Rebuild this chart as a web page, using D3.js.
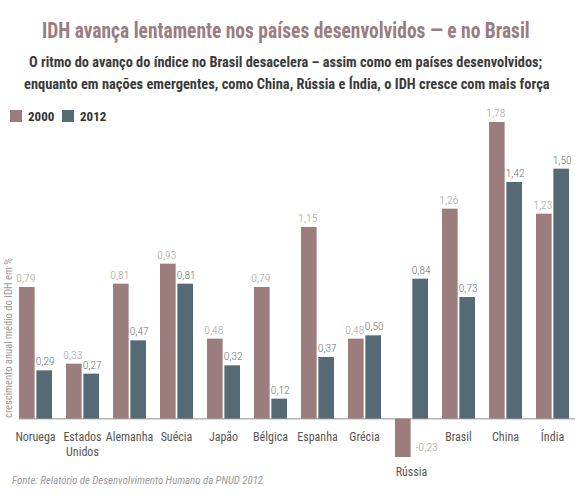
<!DOCTYPE html>
<html><head><meta charset="utf-8">
<script src="https://cdn.jsdelivr.net/npm/d3@7/dist/d3.min.js"></script>
<style>body{margin:0;background:#fff;}svg{display:block;}</style>
</head><body>
<script>
const categories = ["Noruega","Estados Unidos","Alemanha","Suécia","Japão","Bélgica","Espanha","Grécia","Rússia","Brasil","China","Índia"];
const seriesNames = ["2000","2012"];
const values2000 = [0.79,0.33,0.81,0.93,0.48,0.79,1.15,0.48,-0.23,1.26,1.78,1.23];
const values2012 = [0.29,0.27,0.47,0.81,0.32,0.12,0.37,0.50,0.84,0.73,1.42,1.50];
const colors = ["#9c7d7e","#566a76"];
const labelColors = ["#a6a2a2","#6b7479"];

const W=575,H=495;
const font = "'Liberation Sans Narrow','Roboto Condensed','Liberation Sans',sans-serif";
const svg = d3.select("body").append("svg").attr("width",W).attr("height",H).style("font-family",font);

// fit a text to a given width using a horizontal scale transform
function fitText(x0, y0, width, size, weight, color, str){
  const t = svg.append("text").attr("x",0).attr("y",0)
    .attr("font-size",size).attr("font-weight",weight).attr("fill",color).text(str);
  const w = t.node().getComputedTextLength();
  const s = width / w;
  t.attr("transform",`translate(${x0},${y0}) scale(${s},1)`);
  return t;
}

fitText(42, 38, 488, 22, "bold", "#9a7d7e", "IDH avança lentamente nos países desenvolvidos — e no Brasil");
fitText(29, 67, 514, 14, "bold", "#3a3a3a", "O ritmo do avanço do índice no Brasil desacelera – assim como em países desenvolvidos;");
fitText(24, 89, 526, 14, "bold", "#3a3a3a", "enquanto em nações emergentes, como China, Rússia e Índia, o IDH  cresce com mais força");

// legend
const leg = svg.append("g");
seriesNames.forEach((s,i)=>{
  const x0 = i===0?10:62;
  leg.append("rect").attr("x",x0).attr("y",110).attr("width",12).attr("height",12).attr("fill",colors[i]);
  leg.append("text").attr("x",x0+18).attr("y",121).attr("font-size",13).attr("font-weight","bold").attr("fill","#333").text(s);
});

const x = d3.scaleBand().domain(categories).range([19,569]).paddingInner(14/47).paddingOuter(0);
const xs = d3.scaleBand().domain(seriesNames).range([0,x.bandwidth()]).paddingInner(0.1);
const y = d3.scaleLinear().domain([-0.23,1.78]).range([457,122]);

// baseline
svg.append("line").attr("x1",19).attr("x2",575).attr("y1",y(0)).attr("y2",y(0)).attr("stroke","#b5b5b5").attr("stroke-width",1.5);

const data = categories.map((c,i)=>({c, v:[values2000[i],values2012[i]]}));
const g = svg.append("g");
data.forEach(d=>{
  d.v.forEach((v,j)=>{
    const bx = x(d.c)+xs(seriesNames[j]);
    const bw = xs.bandwidth();
    g.append("rect").attr("x",bx).attr("width",bw)
      .attr("y",Math.min(y(v),y(0))).attr("height",Math.abs(y(v)-y(0)))
      .attr("fill",colors[j]);
    const lab = d3.format(".2f")(v).replace(".",",").replace("−","-");
    if(v>=0){
      g.append("text").attr("x",bx+bw/2 + (j===0?-1:1)).attr("y",y(v)-5).attr("text-anchor","middle")
        .attr("font-size",11.5).attr("font-weight",300).attr("fill",labelColors[j]).text(lab);
    } else {
      g.append("text").attr("x",bx+bw+5).attr("y",y(v)-6).attr("text-anchor","start")
        .attr("font-size",11.5).attr("font-weight",300).attr("fill",labelColors[j]).text(lab);
    }
  });
});

// category labels
data.forEach(d=>{
  const cx = x(d.c)+x.bandwidth()/2;
  const neg = d.v[0]<0;
  const yy = neg ? 476 : 441;
  const parts = d.c==="Estados Unidos" ? ["Estados","Unidos"] : [d.c];
  parts.forEach((p,k)=>{
    svg.append("text").attr("x",cx).attr("y",yy+k*15).attr("text-anchor","middle")
      .attr("font-size",12).attr("fill","#555").text(p);
  });
});

// y label
svg.append("text").attr("transform","translate(12,418) rotate(-90)")
  .attr("text-anchor","start").attr("font-size",10).attr("fill","#9a9a9a")
  .attr("textLength",160).attr("lengthAdjust","spacingAndGlyphs")
  .text("crescimento anual médio do IDH em %");

// footer
svg.append("text").attr("x",12).attr("y",484).attr("font-size",11).attr("font-style","italic").attr("fill","#9a9a9a")
  .attr("textLength",251).attr("lengthAdjust","spacingAndGlyphs")
  .text("Fonte: Relatório de Desenvolvimento Humano da PNUD 2012");
</script>
</body></html>
